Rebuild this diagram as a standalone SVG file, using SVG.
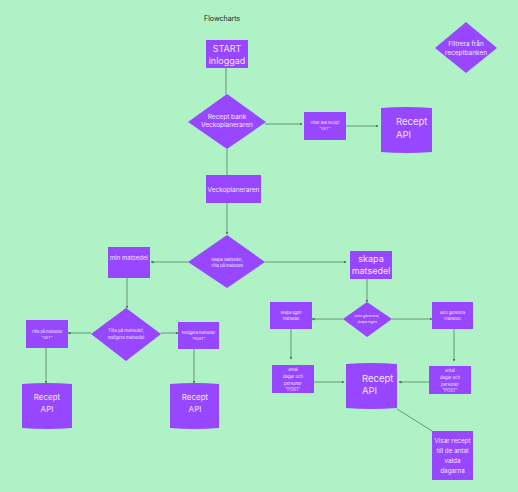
<svg xmlns="http://www.w3.org/2000/svg" width="518" height="492" viewBox="0 0 518 492">
  <defs>
    <style>
      .bg { fill: #aef2c6; }
      .shape { fill: #9747ff; }
      .title { font-family: "Inter", "Liberation Sans", sans-serif; font-size: 7px; fill: #1e2a22; }
      .t { font-family: "Inter", "Liberation Sans", sans-serif; fill: #f4e6ff; text-anchor: middle; }
      .ts { text-anchor: start; }
      .edge { fill: none; stroke: #4d6f57; stroke-width: 0.7; }
      .arr { marker-end: url(#ah); }
    </style>
    <marker id="ah" viewBox="0 0 6 6" refX="5" refY="3" markerWidth="3" markerHeight="3" orient="auto" markerUnits="userSpaceOnUse">
      <path d="M0,0 L6,3 L0,6 z" fill="#4d6f57"/>
    </marker>
  </defs>

  <rect class="bg" x="0" y="0" width="518" height="492"/>
  <text class="title" x="204" y="21">Flowcharts</text>

  <!-- connectors -->
  <g id="connectors">
    <path class="edge" d="M226,68 V94"/>
    <path class="edge arr" d="M265,124 H302"/>
    <path class="edge arr" d="M346,126 H378"/>
    <path class="edge" d="M227,149 V175"/>
    <path class="edge arr" d="M227,203 V234"/>
    <path class="edge arr" d="M188,262 H151"/>
    <path class="edge arr" d="M265,262 H346"/>
    <path class="edge arr" d="M127,278 V308"/>
    <path class="edge arr" d="M91,333 H68"/>
    <path class="edge arr" d="M161,333 H178"/>
    <path class="edge arr" d="M46,348 V383"/>
    <path class="edge arr" d="M194,349 V383"/>
    <path class="edge arr" d="M367,279 V302"/>
    <path class="edge arr" d="M343,319 H312"/>
    <path class="edge arr" d="M392,319 H432"/>
    <path class="edge arr" d="M291,329 V359"/>
    <path class="edge arr" d="M454,329 V361"/>
    <path class="edge arr" d="M314,382 H344"/>
    <path class="edge arr" d="M429,382 H399"/>
    <path class="edge" d="M397,409 L432,431"/>
  </g>

  <g id="start">
    <rect class="shape" x="206" y="40" width="42" height="28"/>
    <text class="t" x="227" y="52" font-size="9">START</text>
    <text class="t" x="227" y="64" font-size="9">inloggad</text>
  </g>

  <g id="filtrera">
    <polygon class="shape" points="466,22 497,48 466,73 435,48"/>
    <text class="t" x="466" y="46" font-size="6.5">Filtrera från</text>
    <text class="t" x="466" y="55" font-size="6.5">receptbanken</text>
  </g>

  <g id="receptbank">
    <polygon class="shape" points="227,94 266,122 227,149 188,122"/>
    <text class="t" x="227" y="119" font-size="6.5">Recept bank</text>
    <text class="t" x="227" y="127" font-size="6.5">Veckoplaneraren</text>
  </g>

  <g id="visaralla">
    <rect class="shape" x="304" y="112" width="42" height="28"/>
    <text class="t" x="325" y="124" font-size="3.8">Visar alla recept</text>
    <text class="t" x="325" y="130" font-size="3.8">"GET"</text>
  </g>

  <g id="api-top">
    <path class="shape" d="M381,108 Q406,106 432,108 V152 Q406,154 381,152 Z"/>
    <text class="t ts" x="396" y="125" font-size="9.5">Recept</text>
    <text class="t ts" x="396" y="138" font-size="9.5">API</text>
  </g>

  <g id="veckoplaneraren">
    <rect class="shape" x="206" y="175" width="55" height="28"/>
    <text class="t" x="233.5" y="191.5" font-size="6.5">Veckoplaneraren</text>
  </g>

  <g id="skapa-titta">
    <polygon class="shape" points="227,235 265,262 227,288 188,262"/>
    <text class="t" x="227" y="261" font-size="4">Skapa Matsedel,</text>
    <text class="t" x="227" y="267" font-size="4">Titta på matsedel</text>
  </g>

  <g id="min-matsedel">
    <rect class="shape" x="108" y="247" width="42" height="31"/>
    <text class="t" x="129" y="260" font-size="6">min matsedel</text>
  </g>

  <g id="skapa-matsedel">
    <rect class="shape" x="350" y="251" width="42" height="28"/>
    <text class="t" x="371" y="262" font-size="9">skapa</text>
    <text class="t" x="371" y="274" font-size="9">matsedel</text>
  </g>

  <g id="titta-redigera">
    <polygon class="shape" points="126,308 161,334 126,361 91,334"/>
    <text class="t" x="126" y="332" font-size="4.3">Titta på matsedel,</text>
    <text class="t" x="126" y="339" font-size="4.3">redigera matsedel</text>
  </g>

  <g id="titta-get">
    <rect class="shape" x="26" y="320" width="42" height="28"/>
    <text class="t" x="47" y="333" font-size="3.8">Titta på matsedel</text>
    <text class="t" x="47" y="339" font-size="3.8">"GET"</text>
  </g>

  <g id="redigera-post">
    <rect class="shape" x="178" y="322" width="41" height="27"/>
    <text class="t" x="198.5" y="334" font-size="3.8">Redigera matsedel</text>
    <text class="t" x="198.5" y="340" font-size="3.8">"POST"</text>
  </g>

  <g id="api-left">
    <path class="shape" d="M22,384 Q47,382 72,384 V428 Q47,430 22,428 Z"/>
    <text class="t" x="47" y="400" font-size="8">Recept</text>
    <text class="t" x="47" y="412" font-size="8">API</text>
  </g>

  <g id="api-mid">
    <path class="shape" d="M170,384 Q195,382 219,384 V428 Q195,430 170,428 Z"/>
    <text class="t" x="195" y="400" font-size="8">Recept</text>
    <text class="t" x="195" y="412" font-size="8">API</text>
  </g>

  <g id="auto-skapa">
    <polygon class="shape" points="367,302 392,319 367,337 343,319"/>
    <text class="t" x="367" y="317" font-size="3.6">auto generera,</text>
    <text class="t" x="367" y="323" font-size="3.6">skapa egen</text>
  </g>

  <g id="skapa-egen">
    <rect class="shape" x="270" y="302" width="42" height="27"/>
    <text class="t" x="291" y="314" font-size="3.8">skapa egen</text>
    <text class="t" x="291" y="320" font-size="3.8">matsedel</text>
  </g>

  <g id="auto-generera">
    <rect class="shape" x="432" y="302" width="41" height="27"/>
    <text class="t" x="452.5" y="314" font-size="3.8">auto generera</text>
    <text class="t" x="452.5" y="320" font-size="3.8">matsedel</text>
  </g>

  <g id="antal-left">
    <rect class="shape" x="272" y="365" width="42" height="28"/>
    <text class="t" x="293" y="370.5" font-size="4.2">antal</text>
    <text class="t" x="293" y="377.5" font-size="4.2">dagar och</text>
    <text class="t" x="293" y="384.5" font-size="4.2">personer</text>
    <text class="t" x="293" y="391" font-size="4.2">"POST"</text>
  </g>

  <g id="antal-right">
    <rect class="shape" x="429" y="366" width="42" height="28"/>
    <text class="t" x="450" y="371.5" font-size="4.2">antal</text>
    <text class="t" x="450" y="378.5" font-size="4.2">dagar och</text>
    <text class="t" x="450" y="385.5" font-size="4.2">personer</text>
    <text class="t" x="450" y="392" font-size="4.2">"POST"</text>
  </g>

  <g id="api-right">
    <path class="shape" d="M346,364 Q371,362 397,364 V408 Q371,410 346,408 Z"/>
    <text class="t ts" x="362" y="382" font-size="9.5">Recept</text>
    <text class="t ts" x="362" y="394" font-size="9.5">API</text>
  </g>

  <g id="visar-recept">
    <rect class="shape" x="432" y="431" width="41" height="49"/>
    <text class="t" x="452.5" y="443" font-size="6.3">Visar recept</text>
    <text class="t" x="452.5" y="453" font-size="6.3">till de antal</text>
    <text class="t" x="452.5" y="463" font-size="6.3">valda</text>
    <text class="t" x="452.5" y="473" font-size="6.3">dagarna</text>
  </g>
</svg>
